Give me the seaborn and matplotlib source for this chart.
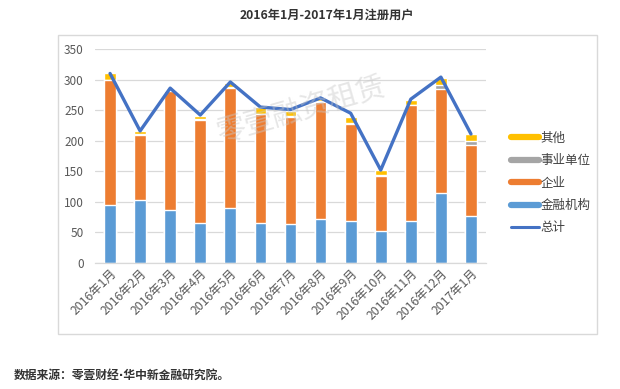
import matplotlib
matplotlib.use("Agg")
import matplotlib.pyplot as plt
import seaborn as sns
import numpy as np
from matplotlib.lines import Line2D
from matplotlib.patches import Rectangle

months = ["2016年1月", "2016年2月", "2016年3月", "2016年4月", "2016年5月", "2016年6月",
          "2016年7月", "2016年8月", "2016年9月", "2016年10月", "2016年11月", "2016年12月", "2017年1月"]
finance = [95, 103, 87, 66, 90, 66, 64, 72, 68, 52, 68, 115, 77]       # 金融机构
company = [204, 107, 195, 168, 197, 177, 175, 192, 159, 91, 190, 170, 116]  # 企业
public = [1, 1, 1, 1, 1, 1, 1, 1, 2, 1, 1, 6, 6]                      # 事业单位
other = [10, 5, 2, 5, 6, 11, 9, 4, 10, 8, 8, 11, 12]                  # 其他
total = [310, 216, 286, 242, 296, 255, 251, 270, 245, 152, 268, 304, 211]  # 总计

series = ["其他", "事业单位", "企业", "金融机构"]
colors = {"其他": "#FFC000", "事业单位": "#A5A5A5", "企业": "#ED7D31", "金融机构": "#5B9BD5"}
line_color = "#4472C4"

sns.set_theme(style="white")
plt.rcParams["font.family"] = ["Noto Sans CJK SC", "DejaVu Sans"]

fig = plt.figure(figsize=(6.2, 3.89), dpi=100)
ax = fig.add_axes([95 / 620, 1 - 263 / 389, 391 / 620, 214 / 389])

# stacked bars drawn as overlapping cumulative bars
stack = np.array([finance, company, public, other])
cum = np.cumsum(stack, axis=0)
tops = {"金融机构": cum[0], "企业": cum[1], "事业单位": cum[2], "其他": cum[3]}
for name in series:
    sns.barplot(x=months, y=tops[name], color=colors[name], width=0.39,
                saturation=1, ax=ax, zorder=2)

sns.lineplot(x=np.arange(len(months)), y=total, color=line_color, linewidth=2.4,
             ax=ax, zorder=3)

ax.set_ylim(0, 350)
ax.set_xlim(-0.5, len(months) - 0.5)
ax.set_yticks(range(0, 351, 50))
ax.yaxis.grid(True, color="#D9D9D9", linewidth=0.9, zorder=0)
ax.set_axisbelow(True)
for s in ["left", "right", "top"]:
    ax.spines[s].set_visible(False)
ax.spines["bottom"].set_color("#D9D9D9")
ax.spines["bottom"].set_linewidth(0.9)

ax.set_xticks(np.arange(-0.5, len(months), 1), minor=True)
ax.tick_params(axis="x", which="minor", length=4, color="#D9D9D9", width=0.9, direction="out")
ax.tick_params(axis="x", which="major", length=0, pad=3)
ax.tick_params(axis="y", length=0, pad=8)
ax.set_xticks(np.arange(len(months)))
ax.set_xticklabels(months, rotation=45, ha="right", rotation_mode="anchor",
                   fontsize=8.8, color="#595959")
for lab in ax.get_yticklabels():
    lab.set_fontsize(8.5)
    lab.set_color("#595959")
ax.set_xlabel("")
ax.set_ylabel("")

# watermark
fig.text(302 / 620, 1 - 110 / 389, "零壹融资租赁", fontsize=21, color="#C8C8C8", alpha=0.45,
         rotation=16, ha="center", va="center", zorder=5)

# legend
handles = [Line2D([], [], color=colors[n], linewidth=4.5) for n in series]
handles.append(Line2D([], [], color=line_color, linewidth=2.2))
fig.legend(handles, series + ["总计"], loc="center left",
           bbox_to_anchor=(505 / 620, 1 - 183 / 389), frameon=False,
           fontsize=9, handlelength=2.2, handletextpad=0.15, labelspacing=0.75,
           borderpad=0, labelcolor="#404040")

# chart border
fig.patches.append(Rectangle((58 / 620, 1 - 334 / 389), 539 / 620, 299 / 389,
                             transform=fig.transFigure, fill=False,
                             edgecolor="#D9D9D9", linewidth=1))

fig.text(327 / 620, 1 - 15 / 389, "2016年1月-2017年1月注册用户", fontsize=8.8,
         fontweight="bold", color="#333333", ha="center", va="center")
fig.text(14 / 620, 1 - 375 / 389, "数据来源：零壹财经·华中新金融研究院。", fontsize=8.5,
         fontweight="bold", color="#333333", ha="left", va="center",
         family=["DejaVu Sans", "Noto Sans CJK SC"])

fig.savefig("out.png", dpi=100)
